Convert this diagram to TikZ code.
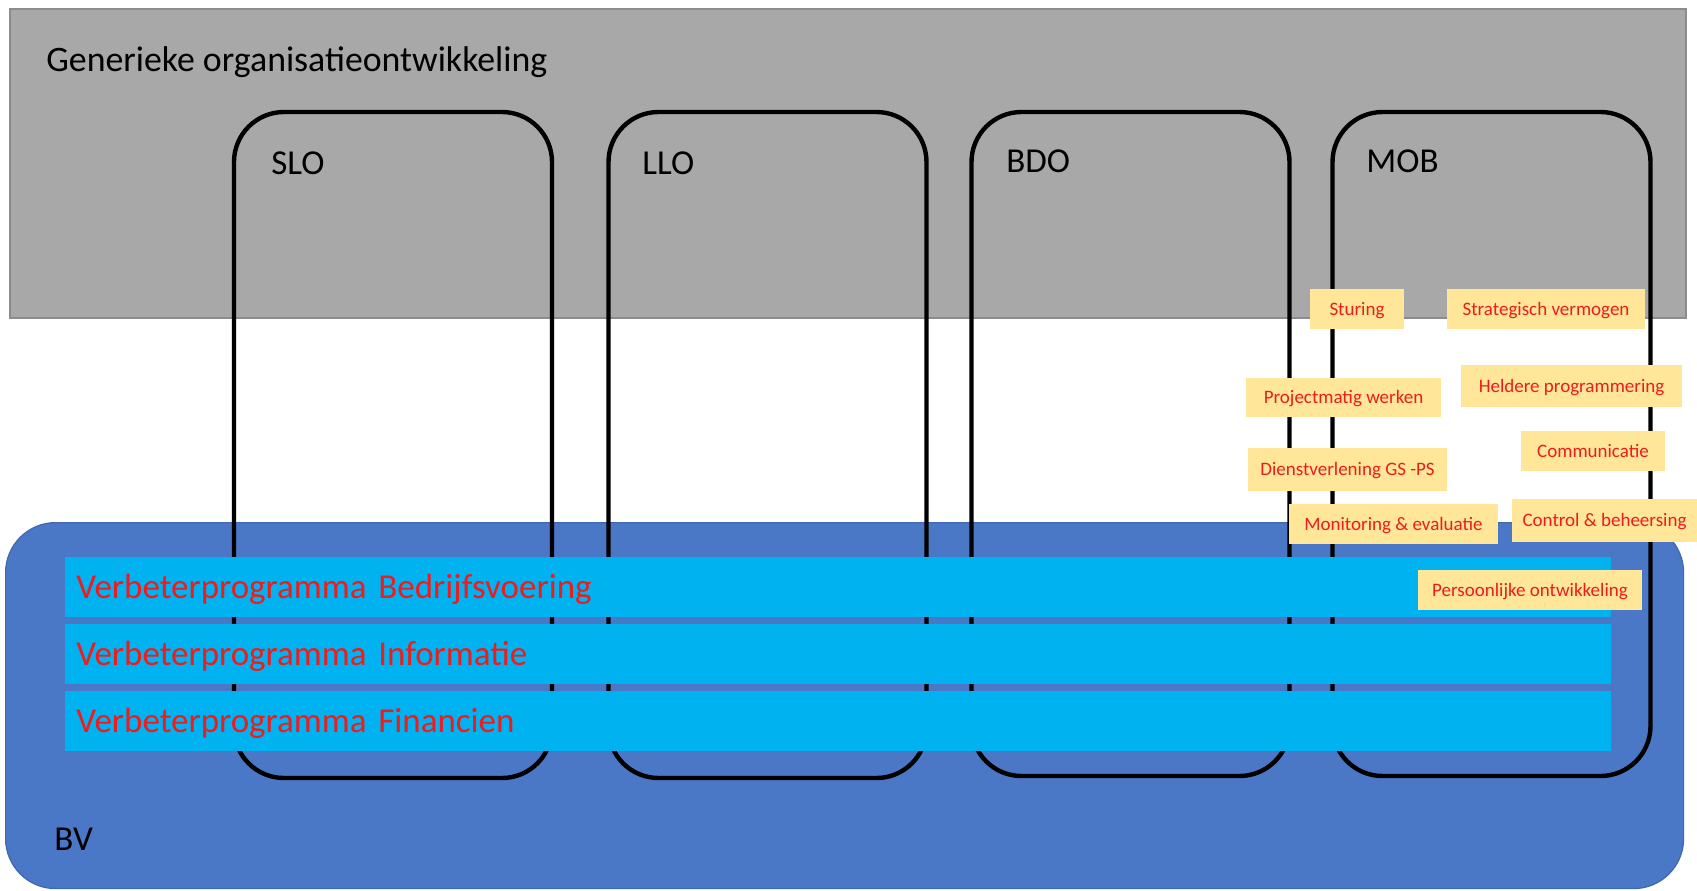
\documentclass[tikz,border=0pt]{standalone}
\usepackage{fontspec}
\setmainfont{Carlito}
\usepackage{xcolor}
\definecolor{diaGray}{HTML}{A8A8A8}
\definecolor{diaGrayBorder}{HTML}{8C8C8C}
\definecolor{diaBlue}{HTML}{4A77C6}
\definecolor{diaBlueBorder}{HTML}{3F68B0}
\definecolor{diaCyan}{HTML}{00B2F0}
\definecolor{diaTag}{HTML}{FFE699}
\definecolor{diaRed}{HTML}{EE1C1C}
\usepackage{tikz}
\usetikzlibrary{positioning}
\tikzset{
    generic/.style={
        draw=diaGrayBorder,
        fill=diaGray,
        line width=1pt,
        anchor=north west,
        inner sep=0pt
    },
    bvarea/.style={
        draw=diaBlueBorder,
        fill=diaBlue,
        line width=0.6pt,
        rounded corners=25pt,
        anchor=north west,
        inner sep=0pt
    },
    column/.style={
        draw=black,
        line width=2.2pt,
        rounded corners=25pt,
        inner sep=0pt,
        minimum width=159pt
    },
    heading/.style={
        anchor=base west,
        inner sep=0pt,
        font=\fontsize{17.5}{21}\selectfont
    },
    bar/.style={
        fill=diaCyan,
        text=diaRed,
        anchor=north west,
        inner xsep=5.5pt,
        text width=762pt,
        align=left,
        minimum height=30pt,
        text height=11.3pt,
        text depth=0pt,
        font=\fontsize{17.5}{21}\selectfont
    },
    tag/.style={
        fill=diaTag,
        text=diaRed,
        inner sep=0pt,
        text height=6.1pt,
        text depth=0pt,
        font=\fontsize{9.5}{11}\selectfont
    }
}
\begin{document}
\begin{tikzpicture}[x=0.5pt, y=-0.5pt]
    \useasboundingbox (0,0) rectangle (1697,890);
    \node[generic, minimum width=838pt, minimum height=154.7pt] (gen) at (8.7,7.6) {};
    \node[bvarea, minimum width=839pt, minimum height=183pt] (bv) at (5,522) {};
    \node[heading, font=\fontsize{17.9}{21}\selectfont] (gentitle) at (46,71) {Generieke organisatieontwikkeling};
    \node[heading] (bvtitle) at (54,850) {BV};

    \node[column, minimum height=333pt] (slo) at (393,445) {};
    \node[column, minimum height=333pt] (llo) at (767.5,445) {};
    \node[column, minimum height=332pt] (bdo) at (1130.5,444) {};
    \node[column, minimum height=332pt] (mob) at (1491.5,444) {};
    \node[heading] (slotitle) at (271,174) {SLO};
    \node[heading] (llotitle) at (642,174) {LLO};
    \node[heading] (bdotitle) at (1006,172) {BDO};
    \node[heading] (mobtitle) at (1366,172) {MOB};

    \node[bar] (vpb) at (65,557) {Verbeterprogramma Bedrijfsvoering};
    \node[bar, below=3pt of vpb] (vpi) {Verbeterprogramma Informatie};
    \node[bar, below=3pt of vpi] (vpf) {Verbeterprogramma Financien};

    \node[tag, minimum width=47pt, minimum height=20pt] (sturing) at (1357,309) {Sturing};
    \node[tag, minimum width=99pt, minimum height=20pt] (strategisch) at (1546,309) {Strategisch vermogen};
    \node[tag, minimum width=97.5pt, minimum height=19.5pt] (projectmatig) at (1343.5,397.5) {Projectmatig werken};
    \node[tag, minimum width=110.5pt, minimum height=21pt] (helder) at (1571.5,386) {Heldere programmering};
    \node[tag, minimum width=99.5pt, minimum height=21.5pt] (dienst) at (1347.5,469.5) {Dienstverlening GS -PS};
    \node[tag, minimum width=72pt, minimum height=20pt] (communicatie) at (1593,451) {Communicatie};
    \node[tag, minimum width=104.5pt, minimum height=20pt] (monitoring) at (1393.5,524) {Monitoring \& evaluatie};
    \node[tag, minimum width=92.5pt, minimum height=21.5pt] (control) at (1604.5,520.5) {Control \& beheersing};
    \node[tag, minimum width=112pt, minimum height=20pt] (persoonlijk) at (1530,590) {Persoonlijke ontwikkeling};
\end{tikzpicture}
\end{document}
